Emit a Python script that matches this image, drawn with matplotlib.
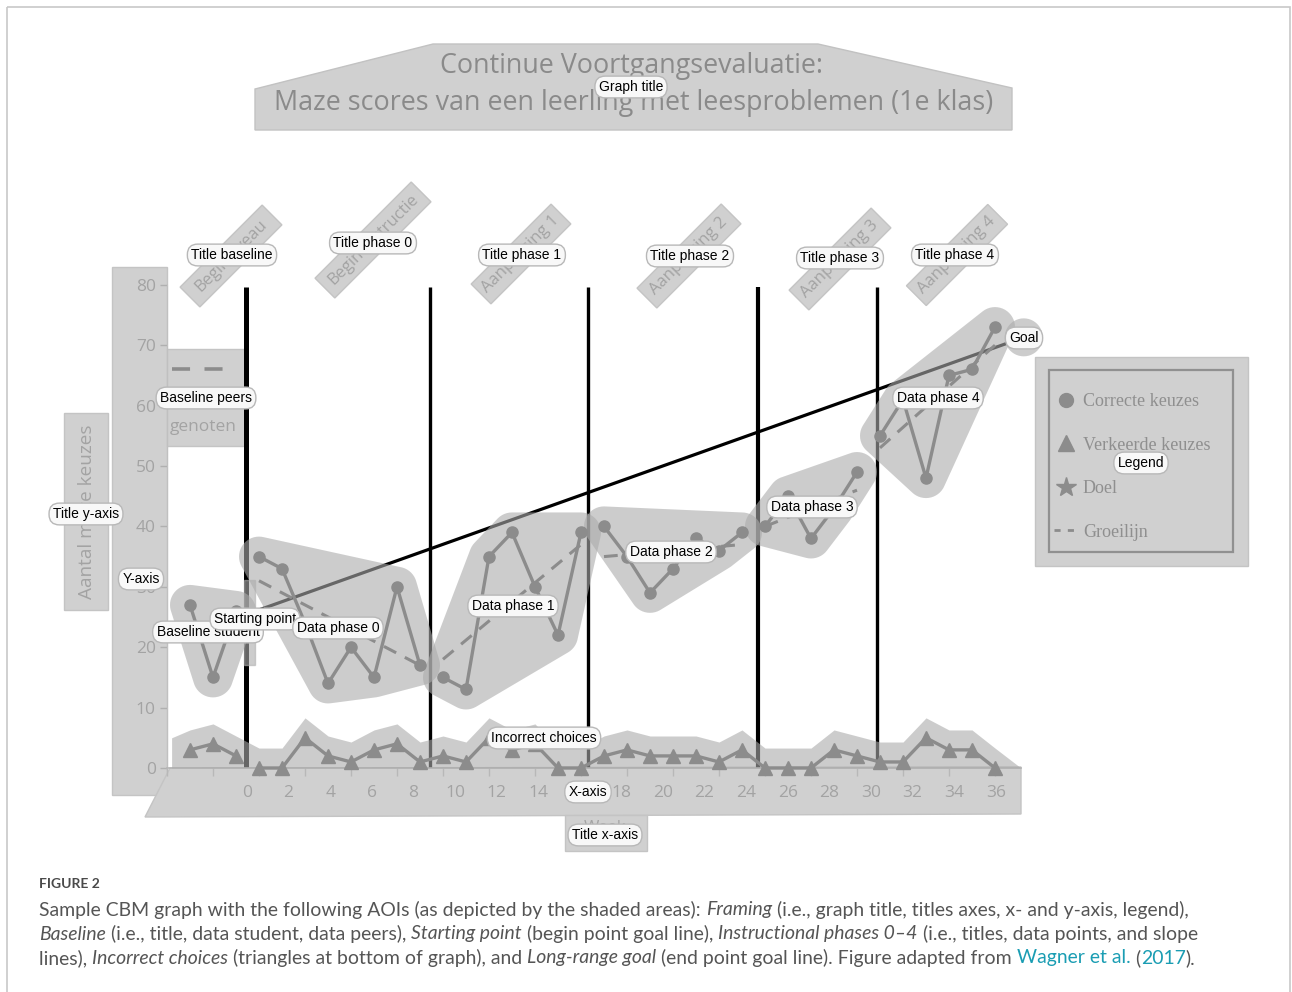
import numpy as np
import matplotlib
matplotlib.use('Agg')
import matplotlib.pyplot as plt
from matplotlib.patches import Polygon, Rectangle
from matplotlib.lines import Line2D
from matplotlib import font_manager

# ---------------- data ----------------
baseline_correct = [27, 15, 26]
phase0_correct = [35, 33, 24, 14, 20, 15, 30, 17]
phase1_correct = [15, 13, 35, 39, 30, 22, 39]
phase2_correct = [40, 35, 29, 33, 38, 36, 39]
phase3_correct = [40, 45, 38, 43, 49]
phase4_correct = [55, 61, 48, 65, 66, 73]
incorrect = [3, 4, 2, 0, 0, 5, 2, 1, 3, 4, 1, 2, 1, 5, 3, 4, 0, 0,
             2, 3, 2, 2, 2, 1, 3, 0, 0, 0, 3, 2, 1, 1, 5, 3, 3, 0]
trend_start = [31, 18, 35, 40, 53]      # groeilijn phases 0-4
trend_end = [17, 37, 37, 46, 70]
phase_bounds = [2.45, 10.45, 17.3, 24.7, 29.85]
goal_x = [2.5, 36.25]
goal_y = [25.5, 71.3]
peer_level = 66
y_ticks = [0, 10, 20, 30, 40, 50, 60, 70, 80]
x_tick_values = list(range(0, 37, 2))
x_tick_labels = [str(v) for v in x_tick_values]
phase_titles = ['Beginniveau', 'Begin-instructie', 'Aanpassing 1',
                'Aanpassing 2', 'Aanpassing 3', 'Aanpassing 4']
legend_labels = ['Correcte keuzes', 'Verkeerde keuzes', 'Doel', 'Groeilijn']
title_lines = ['Continue Voortgangsevaluatie:',
               'Maze scores van een leerling met leesproblemen (1e klas)']

W, H = 1292, 992
GRAY = '#8c8c8c'
SHADE = '#ababab'
SA = 0.6
BOX = '#d0d0d0'

avail = {f.name for f in font_manager.fontManager.ttflist}
def pick(*names):
    for n in names:
        if n in avail:
            return n
    return 'DejaVu Sans'
F_LABEL = pick('Liberation Sans Narrow', 'Liberation Sans')
F_UI = pick('Open Sans', 'Noto Sans', 'DejaVu Sans')
F_SERIF = pick('Liberation Serif', 'DejaVu Serif')
F_CAP = pick('Lato', 'Open Sans', 'DejaVu Sans')

fig = plt.figure(figsize=(W / 100, H / 100), dpi=100)
fig.patch.set_facecolor('white')

def overlay(z):
    a = fig.add_axes([0, 0, 1, 1], zorder=z)
    a.set_xlim(0, W)
    a.set_ylim(H, 0)
    a.axis('off')
    a.patch.set_visible(False)
    return a

bg = overlay(0)

# data axes geometry (pixel layout of the original chart)
X0, DX = 190.0, 23.0
Y0, DY = 768.0, 6.04
xmin, xmax = -1.0, 36.13
ymin, ymax = 0, 80
left_px = X0 + xmin * DX
right_px = X0 + xmax * DX
top_px = Y0 - ymax * DY
ax = fig.add_axes([left_px / W, 1 - Y0 / H, (right_px - left_px) / W, (Y0 - top_px) / H], zorder=1)
ax.set_xlim(xmin, xmax)
ax.set_ylim(ymin, ymax)
ax.patch.set_visible(False)
fg = overlay(2)

renderer = fig.canvas.get_renderer()

# ---------------- background AOI boxes ----------------
bg.add_patch(Rectangle((7, 7), 1283, 1000, fill=False, ec='#c8c8c8', lw=1.2))
bg.add_patch(Polygon([(255, 130), (255, 89), (433, 44), (818, 44), (1012, 88), (1012, 130)],
                     closed=True, fc=BOX, ec='#c2c2c2', lw=1))
bg.add_patch(Rectangle((112, 267), 55, 528, fc=BOX, ec='#c4c4c4', lw=1))
bg.add_patch(Rectangle((64, 413), 44, 197, fc=BOX, ec='#c4c4c4', lw=1))
bg.add_patch(Polygon([(170, 768), (1021, 767), (1021, 814), (145, 817)], closed=True,
                     fc=BOX, ec='#c4c4c4', lw=1))
bg.add_patch(Rectangle((565, 815), 82, 36, fc=BOX, ec='#c4c4c4', lw=1))
bg.add_patch(Rectangle((167, 349), 78, 97, fc=BOX, ec='#c4c4c4', lw=1))
bg.add_patch(Rectangle((1035, 357), 213, 209, fc=BOX, ec='#c4c4c4', lw=1))
bg.add_patch(Rectangle((1049, 370), 184, 182, fill=False, ec='#909090', lw=1.6))

def advance(axh, s, **kw):
    t1 = axh.text(0, 0, '|' + s + '|', **kw)
    t2 = axh.text(0, 0, '||', **kw)
    w = t1.get_window_extent(renderer).width - t2.get_window_extent(renderer).width
    t1.remove(); t2.remove()
    return w

# graph title
fs_t = 17
w2 = advance(bg, title_lines[1], fontsize=fs_t, family=F_UI)
fs_t = fs_t * 722 / w2
bg.text(631, 66, title_lines[0], fontsize=fs_t, family=F_UI, color='#8a8a8a', ha='center', va='center')
bg.text(634, 103, title_lines[1], fontsize=fs_t, family=F_UI, color='#8a8a8a', ha='center', va='center')

# y-axis title
fs_y = 14
wy = advance(bg, 'Aantal maze keuzes', fontsize=fs_y, family=F_UI)
fs_y = fs_y * 176 / wy
bg.text(87, 512, 'Aantal maze keuzes', rotation=90, fontsize=fs_y, family=F_UI,
        color='#a3a3a3', ha='center', va='center')
bg.text(605, 828, 'Week', fontsize=12, family=F_UI, color='#a3a3a3', ha='center', va='center')
bg.text(203, 427, 'genoten', fontsize=12.5, family=F_UI, color='#a3a3a3', ha='center', va='center')

# rotated phase title boxes
title_centers = [(231, 256), (373, 240), (521, 254), (689, 256), (840, 259), (957, 255)]
title_lengths = [116, 136, 113, 119, 116, 115]
for (cx, cy), L, s in zip(title_centers, title_lengths, phase_titles):
    bg.add_patch(Rectangle((cx - L / 2, cy - 14), L, 28, angle=-45, rotation_point='center',
                           fc=BOX, ec='#c4c4c4', lw=1))
    bg.text(cx, cy, s, rotation=45, rotation_mode='anchor', ha='center', va='center',
            fontsize=12, family=F_UI, color='#a3a3a3')

# legend
handles = [Line2D([], [], ls='none', marker='o', ms=10, color=GRAY),
           Line2D([], [], ls='none', marker='^', ms=11, color=GRAY),
           Line2D([], [], ls='none', marker='*', ms=15, color=GRAY),
           Line2D([], [], ls=(0, (2.2, 2.6)), lw=2, color=GRAY)]
bg.legend(handles, legend_labels, loc='upper left', bbox_to_anchor=(1054, 393),
          bbox_transform=bg.transData, frameon=False,
          prop={'family': F_SERIF, 'size': 13}, labelcolor='#8f8f8f',
          handlelength=1.3, handletextpad=0.3, labelspacing=1.47,
          borderpad=0, borderaxespad=0)

# ---------------- data axes ----------------
for sp in ['top', 'right']:
    ax.spines[sp].set_visible(False)
ax.spines['left'].set_color('#c0c0c0')
ax.spines['bottom'].set_color('#b5b5b5')
ax.spines['bottom'].set_linewidth(1.2)
ax.set_yticks(y_ticks)
ax.set_yticklabels([str(v) for v in y_ticks])
ax.tick_params(axis='y', length=5, width=1, color='#b0b0b0', labelcolor='#a3a3a3',
               labelsize=12.5, pad=3)
label_origin_px, label_step_px = 247.0, 20.8
ax.set_xticks([(label_origin_px + label_step_px * v - X0) / DX for v in x_tick_values])
ax.set_xticklabels(x_tick_labels)
ax.set_xticks(np.arange(-1, 36, 2), minor=True)
ax.tick_params(axis='x', which='major', length=0, pad=12, labelcolor='#a3a3a3', labelsize=12.5)
ax.tick_params(axis='x', which='minor', length=6, width=1, color='#b8b8b8')
for lab in ax.get_xticklabels() + ax.get_yticklabels():
    lab.set_family(F_UI)

# phase lines and goal line (under the AOI shading)
ax.vlines(phase_bounds, 0, 79.6, colors='black', lw=[3.6, 2.4, 2.4, 3.0, 2.4], zorder=1)
ax.plot(goal_x, goal_y, color='black', lw=2.3, zorder=1.5, solid_capstyle='butt')
ax.plot([goal_x[1]], [goal_y[1]], marker='*', ms=12, color=GRAY, zorder=1.6, clip_on=False)

phases_correct = [baseline_correct, phase0_correct, phase1_correct,
                  phase2_correct, phase3_correct, phase4_correct]
starts = np.cumsum([0] + [len(p) for p in phases_correct[:-1]])
x_all = np.arange(len(incorrect))

def hull(points):
    pts = sorted(set(points))
    def cross(o, a, b):
        return (a[0] - o[0]) * (b[1] - o[1]) - (a[1] - o[1]) * (b[0] - o[0])
    lower, upper = [], []
    for p in pts:
        while len(lower) >= 2 and cross(lower[-2], lower[-1], p) <= 0:
            lower.pop()
        lower.append(p)
    for p in reversed(pts):
        while len(upper) >= 2 and cross(upper[-2], upper[-1], p) <= 0:
            upper.pop()
        upper.append(p)
    return lower[:-1] + upper[:-1]

def blob(xs, ys, r):
    disp = ax.transData.transform(np.column_stack([xs, ys]))
    ang = np.linspace(0, 2 * np.pi, 48, endpoint=False)
    pts = [(round(px + r * np.cos(a), 3), round(py + r * np.sin(a), 3)) for px, py in disp for a in ang]
    h = np.array(hull(pts))
    poly = ax.transData.inverted().transform(h)
    ax.add_patch(Polygon(poly, closed=True, fc=SHADE, alpha=SA, ec='none', zorder=3, clip_on=False))

for s, vals in zip(starts, phases_correct):
    xs = np.arange(s, s + len(vals))
    blob(xs, vals, 20)
    ax.plot(xs, vals, color=GRAY, lw=2.4, marker='o', ms=8, zorder=5, clip_on=False)

for k in range(5):
    s = starts[k + 1]
    e = s + len(phases_correct[k + 1]) - 1
    ax.plot([s, e], [trend_start[k], trend_end[k]], color=GRAY, lw=2.2,
            ls=(0, (4.5, 3.2)), zorder=5)

# goal AOI circle
blob([goal_x[1]], [goal_y[1]], 19)

# peers baseline level
nb = len(baseline_correct)
ax.plot([xmin + 0.2, nb - 1], [peer_level, peer_level], color=GRAY, lw=2.6,
        ls=(0, (5, 4)), zorder=5)

# incorrect choices
inc = np.array(incorrect, dtype=float)
bx = np.concatenate([[xmin + 0.2], x_all, [xmax]])
by = np.concatenate([[inc[0] + 2.0], inc + 3.3, [0]])
ax.fill_between(bx, 0, by, color=SHADE, alpha=SA, lw=0, zorder=3)
ax.plot(x_all[:nb], inc[:nb], color=GRAY, lw=2.4, marker='^', ms=10, zorder=5, clip_on=False)
ax.plot(x_all[nb:], inc[nb:], color=GRAY, lw=2.4, marker='^', ms=10, zorder=5, clip_on=False)

# starting point AOI
fg.add_patch(Rectangle((244, 580), 11, 85, fc=SHADE, alpha=SA, ec='#b0b0b0', lw=1))

# ---------------- callout labels ----------------
callouts = [
    ('Graph title', 631, 87), ('Title baseline', 232, 255), ('Title phase 0', 373, 243),
    ('Title phase 1', 522, 255), ('Title phase 2', 690, 256), ('Title phase 3', 840, 258),
    ('Title phase 4', 955, 255), ('Goal', 1024, 338), ('Baseline peers', 206, 398),
    ('Data phase 4', 938, 398), ('Legend', 1141, 463), ('Title y-axis', 86, 514),
    ('Data phase 3', 812, 507), ('Data phase 2', 671, 552), ('Y-axis', 141, 579),
    ('Data phase 1', 513, 606), ('Baseline student', 208, 632), ('Starting point', 255, 619),
    ('Data phase 0', 338, 628), ('Incorrect choices', 544, 738), ('X-axis', 588, 792),
    ('Title x-axis', 605, 835)]
for s, x, y in callouts:
    fg.text(x, y, s, ha='center', va='center', fontsize=10, family=F_LABEL, color='black',
            bbox=dict(boxstyle='round,pad=0.28,rounding_size=0.75', fc='#f8f8f8', ec='#b8b8b8', lw=1))

# ---------------- caption ----------------
CAPC = '#555555'
TEAL = '#1a9db3'
cap_lines = [
    [('Sample CBM graph with the following AOIs (as depicted by the shaded areas): ', 'normal', CAPC),
     ('Framing', 'italic', CAPC),
     (' (i.e., graph title, titles axes, x- and y-axis, legend),', 'normal', CAPC)],
    [('Baseline', 'italic', CAPC), (' (i.e., title, data student, data peers), ', 'normal', CAPC),
     ('Starting point', 'italic', CAPC), (' (begin point goal line), ', 'normal', CAPC),
     ('Instructional phases 0\u20134', 'italic', CAPC),
     (' (i.e., titles, data points, and slope', 'normal', CAPC)],
    [('lines), ', 'normal', CAPC), ('Incorrect choices', 'italic', CAPC),
     (' (triangles at bottom of graph), and ', 'normal', CAPC), ('Long-range goal', 'italic', CAPC),
     (' (end point goal line). Figure adapted from ', 'normal', CAPC),
     ('Wagner et al.', 'normal', TEAL), (' (', 'normal', CAPC), ('2017', 'normal', TEAL),
     (').', 'normal', CAPC)],
]

fs_c = 12.5
fs_c = fs_c * 1153 / sum(advance(fg, s, fontsize=fs_c, fontstyle=st, family=F_CAP)
                         for s, st, c in cap_lines[0])
for runs, y in zip(cap_lines, [910, 934, 958]):
    cx = 39
    for s, st, col in runs:
        fg.text(cx, y, s, fontsize=fs_c, fontstyle=st, color=col, family=F_CAP,
                ha='left', va='center')
        cx += advance(fg, s, fontsize=fs_c, fontstyle=st, family=F_CAP)
fg.text(39, 884, 'FIGURE 2', fontsize=10, family=F_CAP, color='#4a4a4a',
        ha='left', va='center', fontweight='bold')

fig.savefig('out.png', dpi=100, facecolor='white')
